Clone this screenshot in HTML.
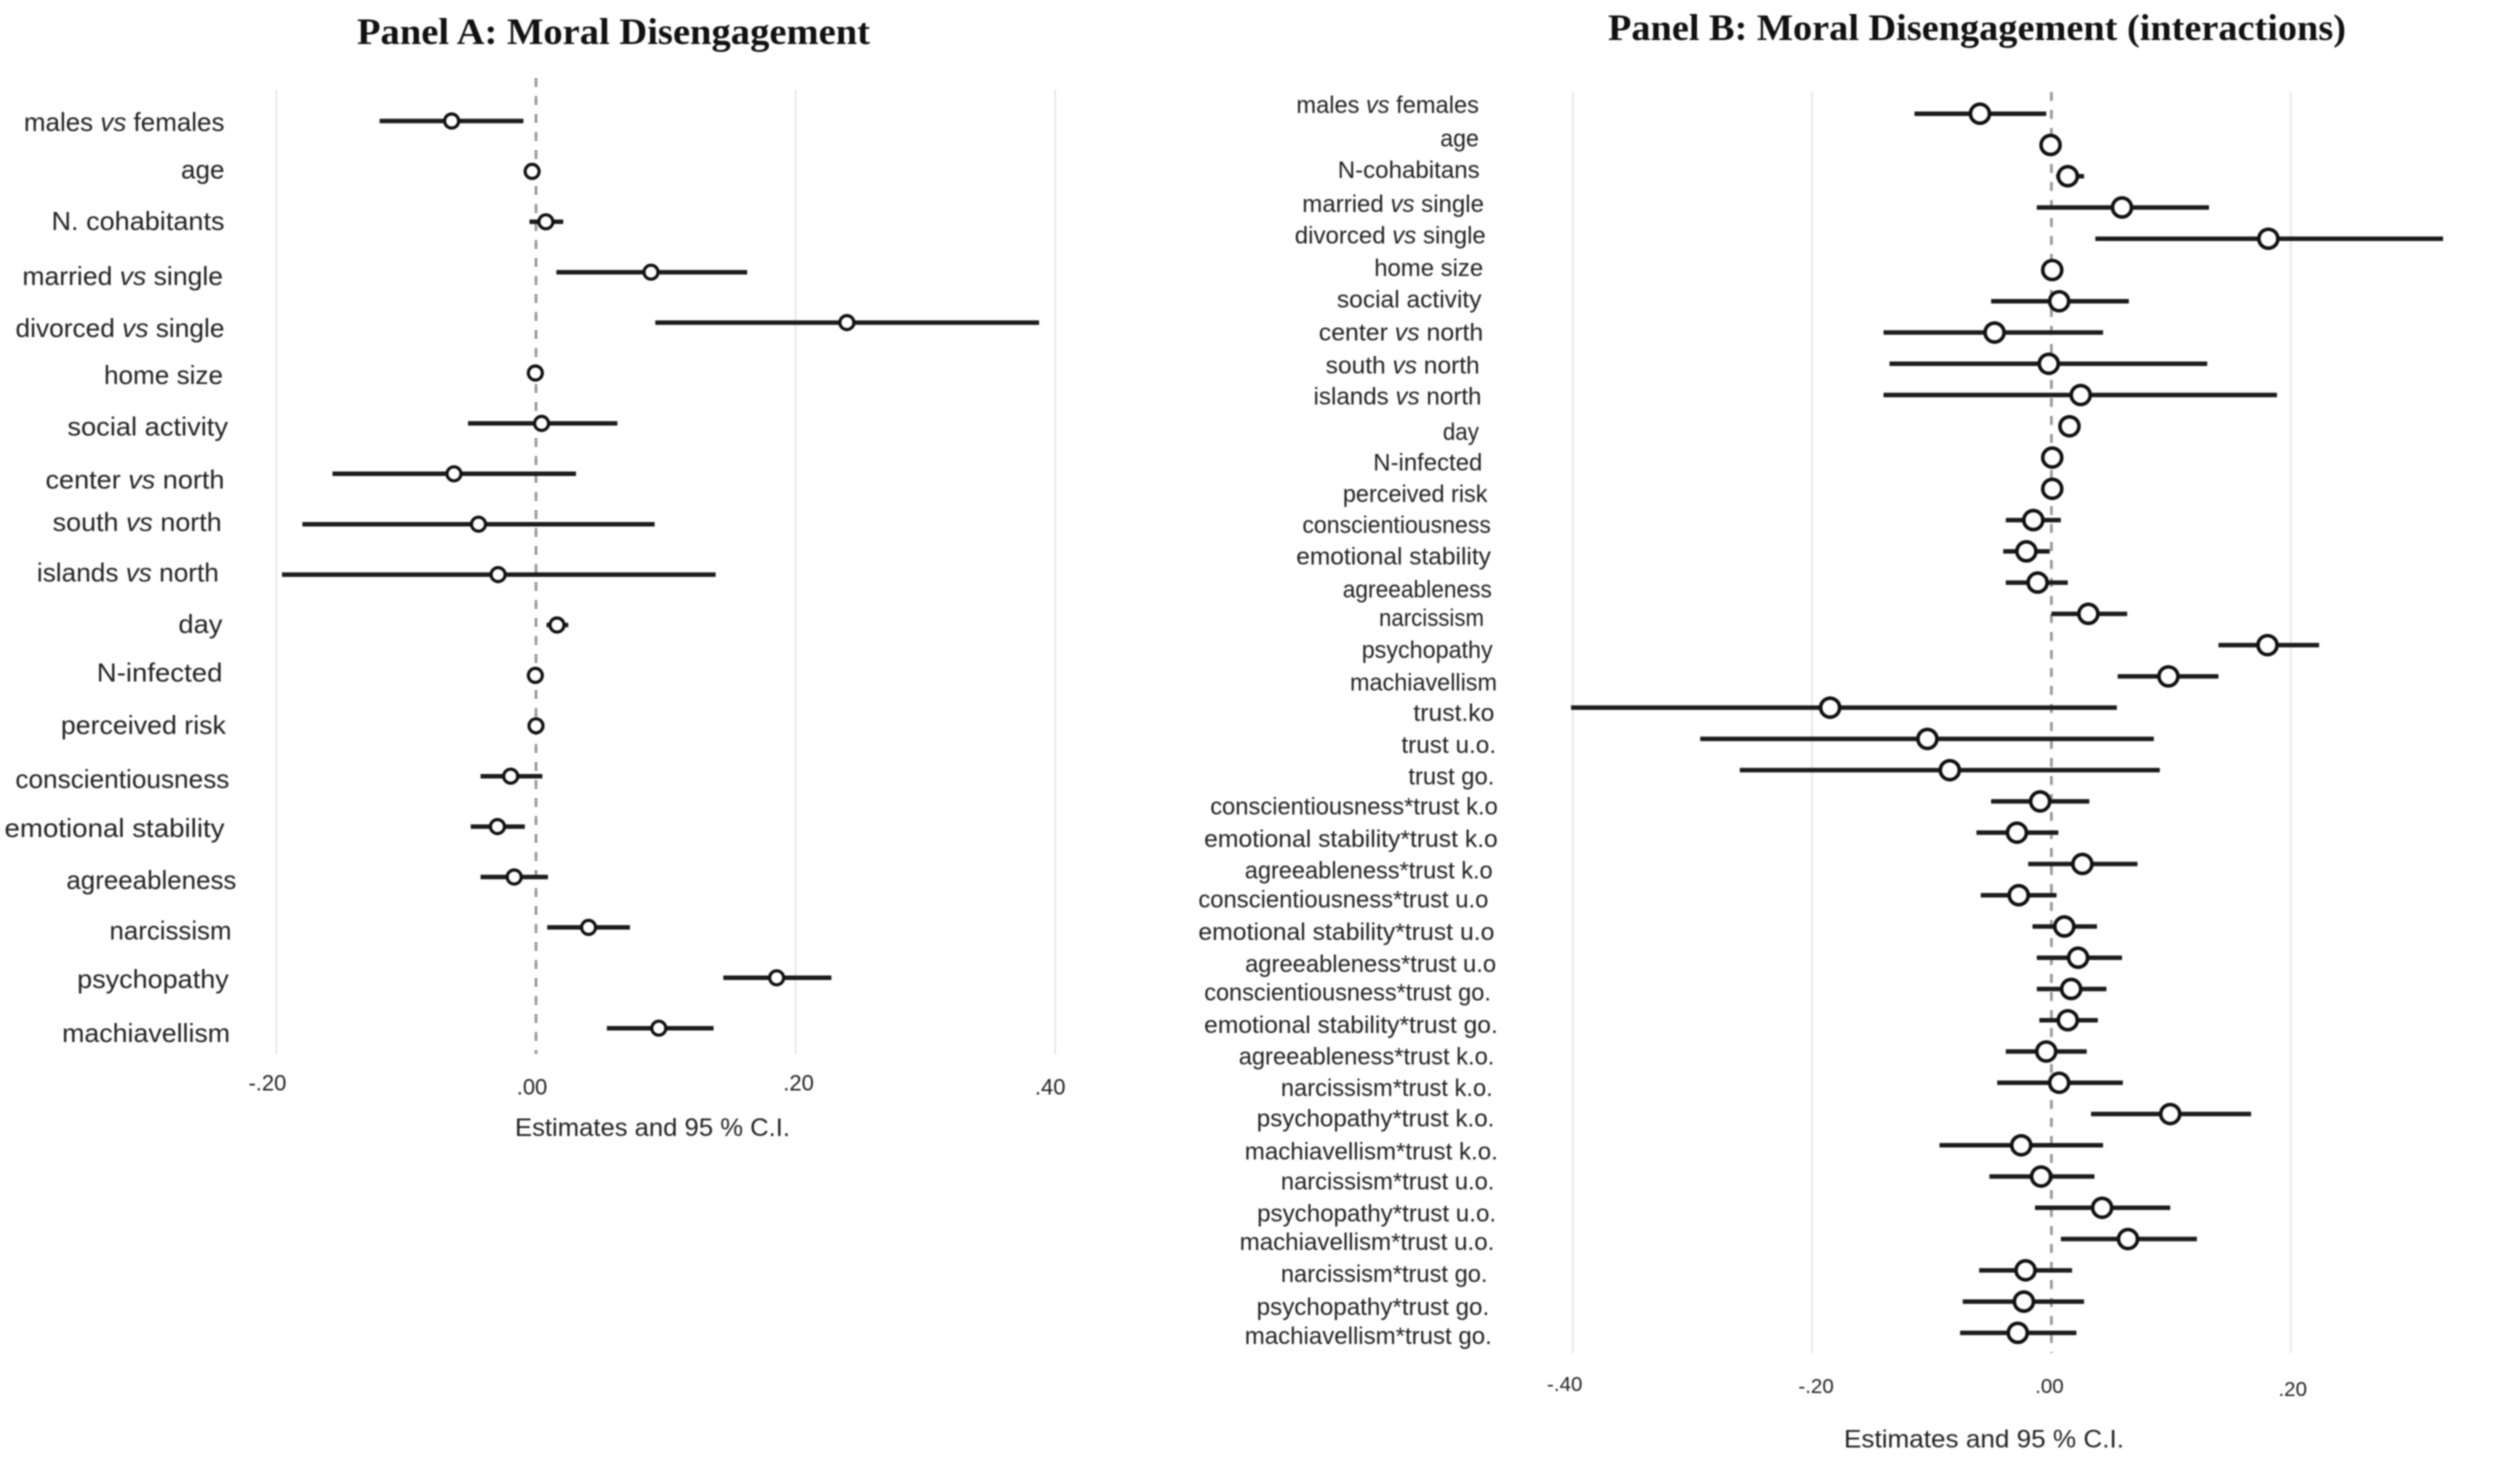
<!DOCTYPE html>
<html lang="en">
<head>
<meta charset="utf-8">
<title>Moral Disengagement coefficient plots</title>
<style>
  html, body { margin: 0; padding: 0; background: #fff; }
  #figure { display: block; width: 2500px; height: 1472px; background: #fff; filter: blur(0.7px); }
  text { font-family: "Liberation Sans", sans-serif; fill: #222; }
  .panel-title { font-family: "Liberation Serif", serif; font-weight: bold; fill: #111; }
</style>
</head>
<body>
<svg id="figure" xmlns="http://www.w3.org/2000/svg" width="2500" height="1472" viewBox="0 0 2500 1472">
  <text class="panel-title" x="357" y="44" font-size="37" textLength="513" lengthAdjust="spacingAndGlyphs">Panel A: Moral Disengagement</text>
  <text class="panel-title" x="1608" y="40" font-size="37" textLength="738" lengthAdjust="spacingAndGlyphs">Panel B: Moral Disengagement (interactions)</text>
  <g id="panel-a"></g>
  <g id="panel-b"></g>
</svg>
<script>
/* ---------- Panel A data ---------- */
const categoriesA = ["males vs females","age","N. cohabitants","married vs single","divorced vs single","home size","social activity","center vs north","south vs north","islands vs north","day","N-infected","perceived risk","conscientiousness","emotional stability","agreeableness","narcissism","psychopathy","machiavellism"];
const estimatesA = [-0.065,-0.003,0.0076,0.0886,0.2395,-0.0005,0.0043,-0.0632,-0.0443,-0.0292,0.0162,-0.0005,0,-0.0195,-0.0297,-0.0168,0.0405,0.1854,0.0946];
const lowersA = [-0.1205,-0.003,-0.005,0.0157,0.0919,-0.0005,-0.0524,-0.1568,-0.18,-0.1957,0.0081,-0.0005,0,-0.0427,-0.0503,-0.0427,0.0086,0.1443,0.0546];
const uppersA = [-0.0097,-0.003,0.021,0.1627,0.3876,-0.0005,0.0627,0.0308,0.0914,0.1384,0.0249,-0.0005,0,0.0049,-0.0086,0.0092,0.0724,0.2276,0.1368];
const tickValuesA = [-0.2,0,0.2,0.4];
const tickLabelsA = ["-.20",".00",".20",".40"];

/* ---------- Panel B data ---------- */
const categoriesB = ["males vs females","age","N-cohabitans","married vs single","divorced vs single","home size","social activity","center vs north","south vs north","islands vs north","day","N-infected","perceived risk","conscientiousness","emotional stability","agreeableness","narcissism","psychopathy","machiavellism","trust.ko","trust u.o.","trust go.","conscientiousness*trust k.o","emotional stability*trust k.o","agreeableness*trust k.o","conscientiousness*trust u.o","emotional stability*trust u.o","agreeableness*trust u.o","conscientiousness*trust go.","emotional stability*trust go.","agreeableness*trust k.o.","narcissism*trust k.o.","psychopathy*trust k.o.","machiavellism*trust k.o.","narcissism*trust u.o.","psychopathy*trust u.o.","machiavellism*trust u.o.","narcissism*trust go.","psychopathy*trust go.","machiavellism*trust go."];
const estimatesB = [-0.0597,-0.0007,0.0137,0.059,0.1813,0.0007,0.0065,-0.0475,-0.0022,0.0245,0.0151,0.0007,0.0007,-0.0151,-0.0209,-0.0115,0.0309,0.1806,0.0978,-0.1849,-0.1036,-0.0849,-0.0094,-0.0288,0.0259,-0.0273,0.0108,0.0223,0.0165,0.0137,-0.0043,0.0065,0.0993,-0.0252,-0.0086,0.0424,0.064,-0.0216,-0.023,-0.0281];
const lowersB = [-0.1144,-0.0007,0.004,-0.0122,0.0367,0.0007,-0.0504,-0.1403,-0.1353,-0.1403,0.0094,0.0007,0.0007,-0.0381,-0.0403,-0.0381,0,0.1396,0.0554,-0.4014,-0.2935,-0.2604,-0.0504,-0.0626,-0.0194,-0.059,-0.0158,-0.0122,-0.0122,-0.0101,-0.0381,-0.0453,0.0331,-0.0935,-0.0518,-0.0137,0.0079,-0.0604,-0.0741,-0.0763];
const uppersB = [-0.0043,-0.0007,0.0273,0.1317,0.3273,0.0007,0.0647,0.0432,0.1302,0.1885,0.0201,0.0007,0.0007,0.0079,-0.0014,0.0137,0.0633,0.2237,0.1396,0.0547,0.0856,0.0906,0.0317,0.0058,0.0719,0.0043,0.0381,0.059,0.046,0.0388,0.0295,0.0597,0.1669,0.0432,0.036,0.0993,0.1216,0.0173,0.0273,0.0209];
const tickValuesB = [-0.4,-0.2,0,0.2];
const tickLabelsB = ["-.40","-.20",".00",".20"];

/* ---------- Layout (scanned label placement, not data) ---------- */
const layoutA = {
  root: 'panel-a', prefix: 'a',
  zeroX: 536, unit: 1298, firstRow: 121, rowStep: 50.4,
  gridTop: 90, gridBottom: 1054, zeroTop: 78,
  labelRight: 224.5, labelSize: 26, tickSize: 22,
  lineWidth: 4.5, markerR: 7, markerStroke: 3.2,
  titleX: 652.5, titleY: 1136, titleSize: 25, titleLength: 275,
  tickNudge: [[-9,-2],[-4,2],[3,-2],[-5,2]], tickBaseY: 1092.5,
  labelNudge: [[0,2],[0,-1],[0,0],[-1.5,5],[0,6.5],[-1.5,3],[3.5,4],[0,6.5],[-2.8,-1],[-5.6,-1],[-2.1,0],[-2.1,-2],[1.4,0],[4.9,4],[0,2.5],[11.9,4],[7,4],[4.2,2],[5.6,6]],
  labelWidths: [200.6,43.5,173,200.6,209,119,160.6,179,169,182,44,125.6,165,214,220,170,122,151.5,168]
};
const layoutB = {
  root: 'panel-b', prefix: 'b',
  zeroX: 2051.4, unit: 1196.7, firstRow: 113.7, rowStep: 31.26,
  gridTop: 92, gridBottom: 1353, zeroTop: 92,
  labelRight: 1490, labelSize: 24, tickSize: 20.5,
  lineWidth: 4.5, markerR: 9.5, markerStroke: 3.6,
  titleX: 1984, titleY: 1447.5, titleSize: 25, titleLength: 280,
  tickNudge: [[-8,-5],[4,-3],[-2,-3],[2,0]], tickBaseY: 1396,
  labelNudge: [[-11.1,-8.7],[-11.1,-6.7],[-10.3,-6.3],[-6,-3.7],[-4.2,-3],[-6.8,-2],[-8.5,-1.7],[-6.8,0],[-10.3,1.7],[-8.5,1.3],[-11.1,5.7],[-7.7,5],[-2.5,5.3],[0.9,4.7],[0.9,5],[1.8,7],[-6,4.3],[2.7,5],[7,6],[4.4,5.3],[6.1,6],[4.4,6.3],[7.8,5],[7.8,6.3],[2.7,6.7],[-1.6,4.3],[4.4,5.7],[6.1,6.3],[0.9,3.3],[7.8,4.7],[4.4,5],[2.7,5.3],[4.4,4.7],[7.8,6],[4.4,5],[6.1,5.7],[4.4,3],[-2.5,3.7],[-0.8,5.3],[1.8,3]],
  labelWidths: [182.5,38.7,142,181.7,191,109,144.6,164.4,154,168,36,109,144.6,188.5,194.6,149,105,131,147,81,94.7,86,287.6,293.6,248,290,296,251,286.7,293.6,255.7,211.8,237.6,253,213.5,239,254.8,206.6,232.5,247]
};

const SVG_NS = 'http://www.w3.org/2000/svg';

function makeSvg(tag, attrs) {
  const node = document.createElementNS(SVG_NS, tag);
  Object.keys(attrs).forEach(function (key) { node.setAttribute(key, attrs[key]); });
  return node;
}

function slugify(text) {
  return text.toLowerCase().replace(/[^a-z0-9]+/g, '-').replace(/^-|-$/g, '');
}

function drawPanel(layout, categories, estimates, lowers, uppers, tickValues, tickLabels) {
  const root = document.getElementById(layout.root);
  const p = layout.prefix;
  const xScale = function (value) { return layout.zeroX + value * layout.unit; };
  const yScale = function (index) { return layout.firstRow + index * layout.rowStep; };

  /* grid lines and tick labels */
  tickValues.forEach(function (value, i) {
    const slug = slugify(tickLabels[i]) + (value < 0 ? '-neg' : '');
    const isZero = value === 0;
    const grid = makeSvg('line', {
      x1: xScale(value), x2: xScale(value),
      y1: isZero ? layout.zeroTop : layout.gridTop, y2: layout.gridBottom,
      stroke: isZero ? '#9a9a9a' : '#e9e9e9',
      'stroke-width': isZero ? 2.8 : 2,
      'stroke-dasharray': isZero ? '9 9' : 'none'
    });
    
    
    root.appendChild(grid);

    const tick = makeSvg('text', {
      x: xScale(value) + layout.tickNudge[i][0],
      y: layout.tickBaseY + layout.tickNudge[i][1],
      'font-size': layout.tickSize,
      'text-anchor': 'middle'
    });
    tick.textContent = tickLabels[i];
    
    
    root.appendChild(tick);
  });

  /* rows */
  categories.forEach(function (name, i) {
    const slug = slugify(name);
    const y = yScale(i);

    const label = makeSvg('text', {
      x: layout.labelRight + layout.labelNudge[i][0],
      y: y + layout.labelNudge[i][1] + 8,
      'font-size': layout.labelSize,
      'text-anchor': 'end',
      textLength: layout.labelWidths[i],
      lengthAdjust: 'spacingAndGlyphs'
    });
    const parts = name.split(' vs ');
    if (parts.length === 2) {
      label.appendChild(document.createTextNode(parts[0] + ' '));
      const italic = makeSvg('tspan', { 'font-style': 'italic' });
      italic.textContent = 'vs';
      label.appendChild(italic);
      label.appendChild(document.createTextNode(' ' + parts[1]));
    } else {
      label.textContent = name;
    }
    
    
    root.appendChild(label);

    const ci = makeSvg('line', {
      x1: xScale(lowers[i]), x2: xScale(uppers[i]), y1: y, y2: y,
      stroke: '#1c1c1c', 'stroke-width': layout.lineWidth
    });
    
    
    root.appendChild(ci);

    const point = makeSvg('circle', {
      cx: xScale(estimates[i]), cy: y, r: layout.markerR,
      fill: '#fff', stroke: '#111', 'stroke-width': layout.markerStroke
    });
    
    
    root.appendChild(point);
  });

  /* axis title */
  const axisTitle = makeSvg('text', {
    x: layout.titleX, y: layout.titleY,
    'font-size': layout.titleSize,
    'text-anchor': 'middle',
    textLength: layout.titleLength,
    lengthAdjust: 'spacingAndGlyphs'
  });
  axisTitle.textContent = 'Estimates and 95 % C.I.';
  
  
  root.appendChild(axisTitle);
}

drawPanel(layoutA, categoriesA, estimatesA, lowersA, uppersA, tickValuesA, tickLabelsA);
drawPanel(layoutB, categoriesB, estimatesB, lowersB, uppersB, tickValuesB, tickLabelsB);
</script>
</body>
</html>
